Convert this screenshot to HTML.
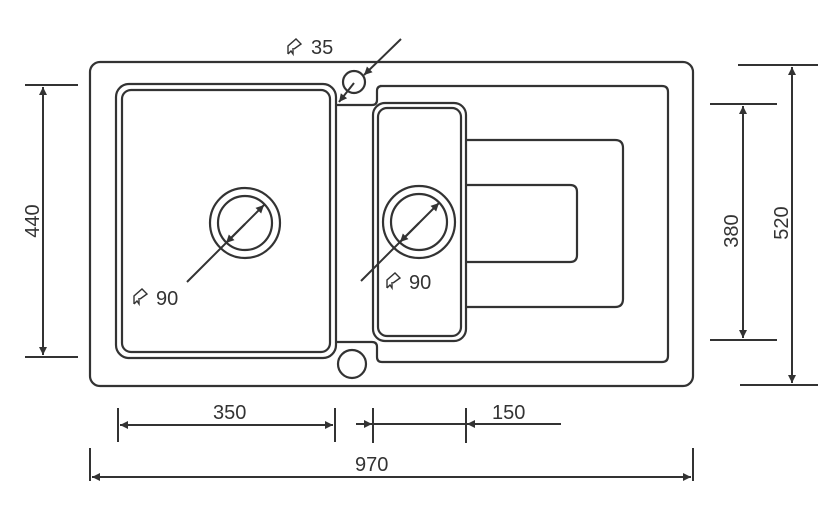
<!DOCTYPE html>
<html><head><meta charset="utf-8"><style>
html,body{margin:0;padding:0;background:#fff}
svg{display:block}
text{font-family:"Liberation Sans",sans-serif;font-size:20px;fill:#333}
</style></head><body>
<svg width="824" height="514" viewBox="0 0 824 514" xmlns="http://www.w3.org/2000/svg">
<defs>
<marker id="a" viewBox="0 0 10 10" refX="10" refY="5" markerWidth="14" markerHeight="8" orient="auto-start-reverse" markerUnits="userSpaceOnUse"><path d="M0,0 L10,5 L0,10 z" fill="#333"/></marker>
<g id="sym"><path d="M0,15 V7 L8,0 L13,5 L6,10 M0,15 L3,12 L5,15 V9" fill="none" stroke="#333" stroke-width="1.4"/></g>
</defs>
<g fill="none" stroke="#333" stroke-width="2.2">
<rect x="90" y="62" width="603" height="324" rx="10"/>
<rect x="116" y="84" width="220" height="274" rx="13"/>
<rect x="122" y="90" width="208" height="262" rx="9"/>
<path d="M380,86 H662 Q668,86 668,92 V356 Q668,362 662,362 H382 Q377,362 377,357 V347 Q377,342 372,342 H337 M337,105 H372 Q377,105 377,100 V91 Q377,86 382,86"/>
<rect x="373" y="103" width="93" height="238" rx="12"/>
<rect x="378" y="108" width="83" height="228" rx="9"/>
<path d="M466,140 H615 Q623,140 623,148 V299 Q623,307 615,307 H466"/>
<path d="M466,185 H570 Q577,185 577,192 V255 Q577,262 570,262 H466"/>
<circle cx="245" cy="223" r="35"/>
<circle cx="245" cy="223" r="27"/>
<circle cx="419" cy="222" r="36"/>
<circle cx="419" cy="222" r="28"/>
<circle cx="354" cy="82" r="11"/>
<circle cx="352" cy="364" r="14"/>
</g>
<g stroke="#333" stroke-width="2" fill="none">
<line x1="187" y1="282" x2="264" y2="205" marker-end="url(#a)"/>
<line x1="245" y1="224" x2="226" y2="243" marker-end="url(#a)"/>
<line x1="361" y1="281" x2="439" y2="203" marker-end="url(#a)"/>
<line x1="419" y1="223" x2="400" y2="242" marker-end="url(#a)"/>
<line x1="401" y1="39" x2="364" y2="75" marker-end="url(#a)"/>
<line x1="354" y1="83" x2="339" y2="102" marker-end="url(#a)"/>
<line x1="25" y1="85" x2="78" y2="85"/><line x1="25" y1="357" x2="78" y2="357"/>
<line x1="43" y1="87" x2="43" y2="355" marker-start="url(#a)" marker-end="url(#a)"/>
<line x1="738" y1="65" x2="818" y2="65"/><line x1="740" y1="385" x2="818" y2="385"/>
<line x1="792" y1="67" x2="792" y2="383" marker-start="url(#a)" marker-end="url(#a)"/>
<line x1="710" y1="104" x2="777" y2="104"/><line x1="710" y1="340" x2="777" y2="340"/>
<line x1="743" y1="106" x2="743" y2="338" marker-start="url(#a)" marker-end="url(#a)"/>
<line x1="118" y1="408" x2="118" y2="442"/><line x1="335" y1="408" x2="335" y2="442"/>
<line x1="120" y1="425" x2="333" y2="425" marker-start="url(#a)" marker-end="url(#a)"/>
<line x1="373" y1="408" x2="373" y2="443"/><line x1="466" y1="408" x2="466" y2="443"/>
<line x1="356" y1="424" x2="372" y2="424" marker-end="url(#a)"/>
<line x1="373" y1="424" x2="466" y2="424"/>
<line x1="561" y1="424" x2="467" y2="424" marker-end="url(#a)"/>
<line x1="90" y1="448" x2="90" y2="481"/><line x1="693" y1="448" x2="693" y2="481"/>
<line x1="92" y1="477" x2="691" y2="477" marker-start="url(#a)" marker-end="url(#a)"/>
</g>
<use href="#sym" x="288" y="39"/><text x="311" y="54">35</text>
<use href="#sym" x="134" y="289"/><text x="156" y="305">90</text>
<use href="#sym" x="387" y="273"/><text x="409" y="289">90</text>
<text x="213" y="419">350</text>
<text x="492" y="419">150</text>
<text x="355" y="471">970</text>
<text transform="translate(39,221) rotate(-90)" text-anchor="middle">440</text>
<text transform="translate(788,223) rotate(-90)" text-anchor="middle">520</text>
<text transform="translate(738,231) rotate(-90)" text-anchor="middle">380</text>
</svg>
</body></html>
